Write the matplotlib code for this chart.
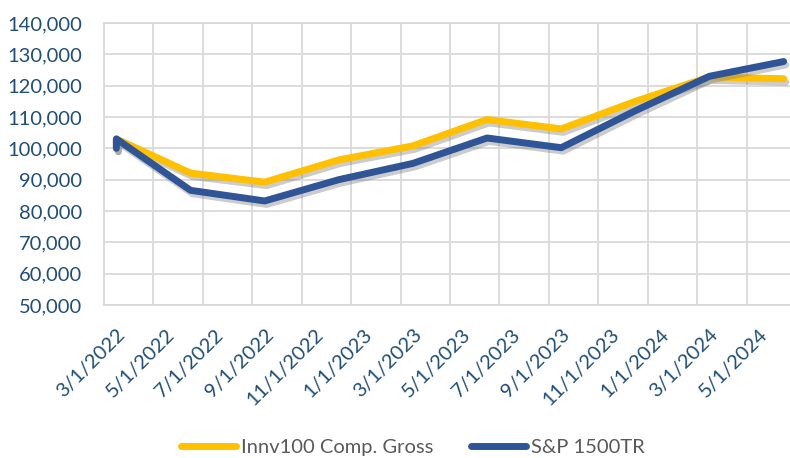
import numpy as np
import pandas as pd
import matplotlib
matplotlib.use('Agg')
import matplotlib.pyplot as plt
import matplotlib.patheffects as pe
from matplotlib.ticker import FuncFormatter

# quarterly values (first two points fall in the same month)
dates = ['3/1/2022', '3/31/2022', '6/30/2022', '9/30/2022', '12/31/2022',
         '3/31/2023', '6/30/2023', '9/30/2023', '12/31/2023', '3/31/2024',
         '6/30/2024']
innv100 = [100000, 103000, 92100, 89200, 96300, 100800, 109200, 106200,
           115000, 122800, 122200]
sp1500 = [100000, 103000, 86600, 83200, 90000, 95200, 103300, 100200,
          112000, 123000, 127700]
tick_labels = ['3/1/2022', '5/1/2022', '7/1/2022', '9/1/2022', '11/1/2022',
               '1/1/2023', '3/1/2023', '5/1/2023', '7/1/2023', '9/1/2023',
               '11/1/2023', '1/1/2024', '3/1/2024', '5/1/2024']
series_names = ['Innv100 Comp. Gross', 'S&P 1500TR']

YELLOW = '#FFC000'
BLUE = '#2F5597'
TXT = '#1F4E79'
GRID = '#D9D9D9'

plt.rcParams['font.family'] = ['Lato', 'DejaVu Sans']

# month axis (Excel date axis, base unit = months, plotted between tick marks)
start = pd.Timestamp('2022-03-01')
def month_pos(d):
    d = pd.Timestamp(d)
    return (d.year - start.year) * 12 + (d.month - start.month) + 0.5

x = [month_pos(d) for d in dates]
tick_pos = [month_pos(pd.Timestamp(t)) for t in tick_labels]
n_months = 28

fig = plt.figure(figsize=(7.9, 4.58), dpi=100)
ax = fig.add_axes([104/790, 1 - 305/458, 692/790, 282/458])

shadow = [pe.SimpleLineShadow(offset=(1.5, -2.5), shadow_color='#808080', alpha=0.4),
          pe.Normal()]
ax.plot(x, innv100, color=YELLOW, lw=5, solid_capstyle='round',
        solid_joinstyle='round', label=series_names[0], path_effects=shadow, zorder=3)
ax.plot(x, sp1500, color=BLUE, lw=5, solid_capstyle='round',
        solid_joinstyle='round', label=series_names[1], path_effects=shadow, zorder=4)

ax.set_xlim(0, n_months)
ax.set_ylim(50000, 140000)
ax.set_yticks(np.arange(50000, 140001, 10000))
ax.yaxis.set_major_formatter(FuncFormatter(lambda v, p: f'{int(v):,}'))

# gridlines at month boundaries every 2 months, labels at month centres
ax.set_xticks(np.arange(0, n_months + 1, 2))
ax.set_xticklabels([])
ax.set_xticks(tick_pos, minor=True)
ax.set_xticklabels(tick_labels, minor=True, rotation=45, ha='right', va='top',
                   rotation_mode='anchor', fontsize=14.5, color=TXT)
ax.tick_params(axis='x', which='both', length=0)
ax.tick_params(axis='x', which='minor', pad=15)
ax.tick_params(axis='y', length=0, pad=16, labelsize=14.5, labelcolor=TXT)

ax.grid(True, which='major', color=GRID, linewidth=1.3)
ax.set_axisbelow(True)
for s in ax.spines.values():
    s.set_color(GRID)
    s.set_linewidth(1.3)

leg = fig.legend(loc='center', bbox_to_anchor=(413/790, 1 - 447/458), ncol=2,
                 frameon=False, fontsize=14.5, handlelength=2.75, handletextpad=0.25,
                 columnspacing=1.85)
for t in leg.get_texts():
    t.set_color('#595959')
for h in leg.get_lines():
    h.set_linewidth(5)
    h.set_solid_capstyle('round')
    h.set_path_effects([])

fig.savefig('out.png', dpi=100)
